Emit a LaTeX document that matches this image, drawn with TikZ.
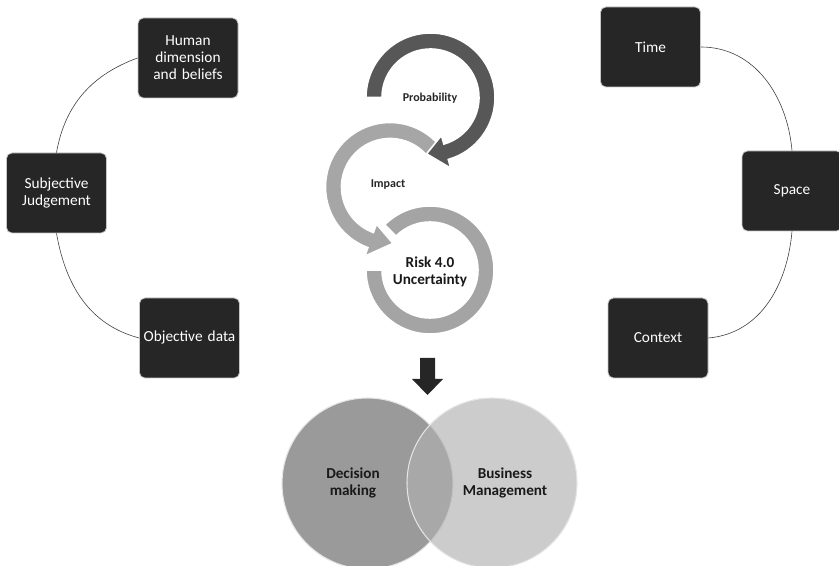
\documentclass[tikz,border=0pt]{standalone}
\usepackage{fontspec}
\setmainfont{Carlito}
\usepackage{tikz}
\usetikzlibrary{positioning, calc}
\definecolor{boxfill}{HTML}{262626}
\definecolor{probgray}{HTML}{575757}
\definecolor{impgray}{HTML}{A6A6A6}
\definecolor{riskgray}{HTML}{A4A4A4}
\definecolor{decgray}{HTML}{9A9A9A}
\definecolor{busgray}{HTML}{B0B0B0}

\begin{document}
\begin{tikzpicture}[x=0.75pt,y=0.75pt,
    factor/.style={draw=gray!45, line width=0.6pt, fill=boxfill, rounded corners=4pt,
      minimum width=75pt, minimum height=60pt, inner sep=1pt, text width=72pt, align=center,
      text=white, font=\fontsize{11.5}{12.8}\selectfont},
    link/.style={draw=black!75, line width=0.45pt},
    ring/.style={draw=white, line width=1.2pt},
    tag/.style={align=center, text=black!85, font=\bfseries\fontsize{9}{11}\selectfont},
    bigtag/.style={align=center, text=black!90, font=\bfseries\fontsize{11.4}{12.8}\selectfont}]

        \clip (0,0) rectangle (839,566); % page frame

        % Left group of factors
        \node[factor] (human) at (188,508) {Human\\ dimension\\ and beliefs};
        \node[factor] (subj) at (56.5,373) {Subjective\\ Judgement};
        \node[factor] (obj) at (189.5,228) {Objective data};
        \draw[link] (human.west) to[out=200,in=80] (subj.north);
        \draw[link] (subj.south) to[out=-80,in=165] (obj.west);

        % Right group of factors
        \node[factor] (time) at (650.5,519) {Time};
        \node[factor] (space) at (792,375) {Space};
        \node[factor] (ctx) at (658,228) {Context};
        \draw[link] (time.east) to[out=0,in=95] (space.north);
        \draw[link] (space.south) to[out=-95,in=5] (ctx.east);

        % Bottom ring (Risk)
        \begin{scope}[shift={(430,296)}]
          \filldraw[ring, fill=riskgray] (135:64) arc[start angle=135,end angle=-180,radius=64]
            -- (-180:48) arc[start angle=-180,end angle=135,radius=48] -- cycle;
        \end{scope}
        \node[bigtag] (risk) at (430,294) {Risk 4.0\\ Uncertainty};

        % Middle ring (Impact)
        \begin{scope}[shift={(390,379)}]
          \filldraw[ring, fill=impgray] (40:64.5) arc[start angle=40,end angle=250,radius=64.5]
            -- (250:73.5) -- (273:56.5) -- (250:39.5)
            -- (250:48.5) arc[start angle=250,end angle=40,radius=48.5] -- cycle;
        \end{scope}
        \node[tag] (impact) at (388,381) {Impact};

        % Top ring (Probability)
        \begin{scope}[shift={(430.5,468.5)}]
          \filldraw[ring, fill=probgray] (180:64.5) arc[start angle=180,end angle=-74,radius=64.5]
            -- (-74:73.5) -- (-94:56.5) -- (-74:39.5)
            -- (-74:48.5) arc[start angle=-74,end angle=180,radius=48.5] -- cycle;
        \end{scope}
        \node[tag] (prob) at (430,468) {Probability};

        % Down arrow
        \fill[boxfill] (420,208) -- (435,208) -- (435,187) -- (443,187) -- (427.5,171)
          -- (412,187) -- (420,187) -- cycle;

        % Venn circles
        \filldraw[fill=decgray, draw=white!80!gray, line width=0.8pt] (367.5,82.5) circle[radius=85.5];
        \filldraw[fill=busgray, fill opacity=0.64, draw=white!80!gray, line width=0.8pt] (492,83) circle[radius=85];
        \node[bigtag] (dec) at (353,83) {Decision\\ making};
        \node[bigtag] (bus) at (505,83) {Business\\ Management};

\end{tikzpicture}
\end{document}
